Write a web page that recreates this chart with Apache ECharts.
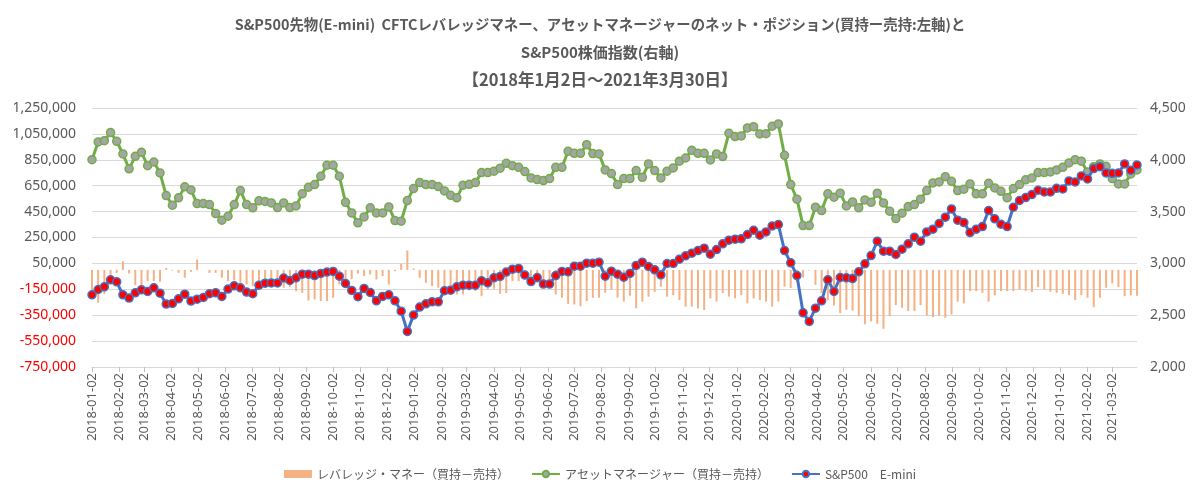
<!DOCTYPE html>
<html>
<head>
<meta charset="utf-8">
<script src="https://cdn.jsdelivr.net/npm/echarts@6/dist/echarts.min.js"></script>
<style>
html,body{margin:0;padding:0;background:#fff;}
#chart{width:1200px;height:497px;}
</style>
</head>
<body>
<div id="chart"></div>
<script>
// weekly report dates (Tuesdays)
const dates = [
'2018-01-02','2018-01-09','2018-01-16','2018-01-23','2018-01-30','2018-02-06','2018-02-13','2018-02-20','2018-02-27',
'2018-03-06','2018-03-13','2018-03-20','2018-03-27','2018-04-03','2018-04-10','2018-04-17','2018-04-24',
'2018-05-01','2018-05-08','2018-05-15','2018-05-22','2018-05-29','2018-06-05','2018-06-12','2018-06-19','2018-06-26',
'2018-07-03','2018-07-10','2018-07-17','2018-07-24','2018-07-31','2018-08-07','2018-08-14','2018-08-21','2018-08-28',
'2018-09-04','2018-09-11','2018-09-18','2018-09-25','2018-10-02','2018-10-09','2018-10-16','2018-10-23','2018-10-30',
'2018-11-06','2018-11-13','2018-11-20','2018-11-27','2018-12-04','2018-12-11','2018-12-18','2018-12-25',
'2019-01-01','2019-01-08','2019-01-15','2019-01-22','2019-01-29','2019-02-05','2019-02-12','2019-02-19','2019-02-26',
'2019-03-05','2019-03-12','2019-03-19','2019-03-26','2019-04-02','2019-04-09','2019-04-16','2019-04-23','2019-04-30',
'2019-05-07','2019-05-14','2019-05-21','2019-05-28','2019-06-04','2019-06-11','2019-06-18','2019-06-25',
'2019-07-02','2019-07-09','2019-07-16','2019-07-23','2019-07-30','2019-08-06','2019-08-13','2019-08-20','2019-08-27',
'2019-09-03','2019-09-10','2019-09-17','2019-09-24','2019-10-01','2019-10-08','2019-10-15','2019-10-22','2019-10-29',
'2019-11-05','2019-11-12','2019-11-19','2019-11-26','2019-12-03','2019-12-10','2019-12-17','2019-12-24','2019-12-31',
'2020-01-07','2020-01-14','2020-01-21','2020-01-28','2020-02-04','2020-02-11','2020-02-18','2020-02-25',
'2020-03-03','2020-03-10','2020-03-17','2020-03-24','2020-03-31','2020-04-07','2020-04-14','2020-04-21','2020-04-28',
'2020-05-05','2020-05-12','2020-05-19','2020-05-26','2020-06-02','2020-06-09','2020-06-16','2020-06-23','2020-06-30',
'2020-07-07','2020-07-14','2020-07-21','2020-07-28','2020-08-04','2020-08-11','2020-08-18','2020-08-25',
'2020-09-01','2020-09-08','2020-09-15','2020-09-22','2020-09-29','2020-10-06','2020-10-13','2020-10-20','2020-10-27',
'2020-11-03','2020-11-10','2020-11-17','2020-11-24','2020-12-01','2020-12-08','2020-12-15','2020-12-22','2020-12-29',
'2021-01-05','2021-01-12','2021-01-19','2021-01-26','2021-02-02','2021-02-09','2021-02-16','2021-02-23',
'2021-03-02','2021-03-09','2021-03-16','2021-03-23','2021-03-30'
];

// レバレッジ・マネー（買持－売持）
const leveraged = [
-177000,-254000,-185000,-56000,-23000,67000,-28000,-118000,-125000,-87000,-87000,-92000,16000,-5000,-23000,-61000,
-15000,80000,-2000,-23000,-23000,-61000,-87000,-82000,-100000,-113000,-125000,-113000,-125000,-131000,-125000,-138000,
-133000,-164000,-177000,-236000,-228000,-241000,-241000,-215000,-113000,-113000,
-70000,-28000,-48000,-36000,-74000,-48000,-113000,-10000,47000,150000,11000,-61000,-100000,-125000,-138000,-133000,
-164000,-190000,-190000,-159000,-164000,-203000,-151000,-146000,-185000,-180000,-87000,-87000,-74000,-74000,-100000,
-113000,-125000,-190000,-215000,-262000,-267000,-280000,-241000,-215000,-215000,-177000,-151000,
-215000,-245000,-200000,-297000,-245000,-207000,-170000,-130000,-207000,-195000,-233000,-283000,-283000,-297000,
-310000,-220000,-245000,-180000,-207000,-220000,-195000,-258000,-220000,-233000,-245000,-283000,-245000,-130000,
-140000,-95000,-60000,-5000,-115000,-180000,-235000,-275000,-333000,-308000,-315000,-358000,-420000,-398000,
-416000,-455000,-357000,-272000,-293000,-318000,-318000,-272000,-352000,-365000,-352000,-370000,-344000,-246000,
-259000,-164000,-164000,-177000,-246000,-197000,-164000,-164000,-164000,-151000,-164000,-172000,-133000,-151000,
-169000,-177000,-185000,-195000,-233000,-195000,-215000,-288000,-215000,-138000,-105000,-133000,-203000,-197000,-200000
];

// アセットマネージャー（買持－売持）
const assetMgr = [
851000,988000,998000,1060000,993000,895000,780000,877000,908000,805000,833000,749000,574000,499000,556000,641000,
617000,512000,512000,504000,435000,384000,414000,504000,612000,504000,479000,533000,528000,517000,481000,517000,
481000,494000,587000,638000,659000,723000,808000,808000,723000,522000,440000,
363000,409000,479000,440000,440000,486000,381000,376000,535000,628000,674000,659000,659000,643000,610000,576000,
556000,654000,661000,674000,751000,751000,762000,785000,823000,805000,792000,759000,710000,697000,690000,705000,
792000,792000,916000,900000,900000,967000,898000,895000,772000,744000,
659000,705000,705000,767000,715000,818000,767000,710000,762000,787000,839000,864000,923000,900000,900000,849000,
895000,875000,1055000,1029000,1034000,1096000,1106000,1050000,1052000,1109000,1127000,885000,659000,546000,342000,
342000,484000,458000,587000,561000,592000,494000,525000,479000,540000,522000,
592000,517000,453000,396000,438000,489000,504000,546000,612000,671000,679000,720000,684000,612000,623000,664000,
587000,587000,669000,633000,607000,556000,628000,659000,695000,710000,751000,751000,756000,772000,792000,826000,
851000,839000,756000,797000,818000,800000,705000,664000,664000,741000,772000
];

// S&P500 E-mini
const sp500 = [
2697,2748,2774,2842,2822,2697,2665,2716,2745,2729,2764,2713,2607,2613,2658,2703,2636,2655,2671,2707,2716,2681,
2752,2784,2764,2723,2707,2790,2809,2812,2812,2858,2835,2861,2896,2896,2883,2903,2916,2922,2877,2806,2739,
2678,2758,2719,2639,2681,2697,2639,2539,2343,2501,2578,2610,2629,2629,2736,2742,2774,2790,2790,2790,2832,2813,
2861,2874,2916,2944,2951,2887,2825,2864,2800,2800,2883,2922,2919,2973,2973,3002,3002,3012,2877,2925,
2896,2867,2903,2980,3012,2970,2938,2890,2999,2999,3041,3073,3099,3124,3147,3089,3134,3189,3224,3234,3237,3279,
3320,3272,3304,3362,3375,3124,3006,2883,2523,2440,2568,2639,2842,2729,2864,2861,2854,2919,2996,3076,
3214,3118,3118,3086,3137,3189,3253,3214,3304,3330,3385,3446,3526,3417,3394,3298,3330,3356,3510,3430,3378,3356,
3542,3607,3635,3664,3706,3690,3690,3725,3719,3796,3786,3844,3815,3915,3934,3873,3870,3873,3960,3899,3950
];

// x-axis tick labels (monthly)
const monthTicks = [
'2018-01-02','2018-02-02','2018-03-02','2018-04-02','2018-05-02','2018-06-02','2018-07-02','2018-08-02','2018-09-02',
'2018-10-02','2018-11-02','2018-12-02','2019-01-02','2019-02-02','2019-03-02','2019-04-02','2019-05-02','2019-06-02',
'2019-07-02','2019-08-02','2019-09-02','2019-10-02','2019-11-02','2019-12-02','2020-01-02','2020-02-02','2020-03-02',
'2020-04-02','2020-05-02','2020-06-02','2020-07-02','2020-08-02','2020-09-02','2020-10-02','2020-11-02','2020-12-02',
'2021-01-02','2021-02-02','2021-03-02'
];

const seriesNames = ['レバレッジ・マネー（買持－売持）', 'アセットマネージャー（買持－売持）', 'S&P500　E-mini'];
const titleLines = [
  'S&P500先物(E-mini)  CFTCレバレッジマネー、アセットマネージャーのネット・ポジション(買持ー売持:左軸)と',
  'S&P500株価指数(右軸)',
  '【2018年1月2日～2021年3月30日】'
];

const DAY = 86400000;
function toDay(s){ const p = s.split('-').map(Number); return Math.round(Date.UTC(p[0], p[1]-1, p[2]) / DAY); }
function pad(n){ return (n<10?'0':'')+n; }
function fmtDay(v){ const d = new Date(Math.round(v) * DAY); return d.getUTCFullYear()+'-'+pad(d.getUTCMonth()+1)+'-'+pad(d.getUTCDate()); }
function fmtNum(v){ return Math.round(v).toLocaleString('en-US'); }

const tickVals = monthTicks.map(toDay);
const xs = dates.map(toDay);
const pair = (arr) => arr.map((v,i) => [xs[i], v]);

const grey = '#595959';
const FONT = '"Noto Sans", "Noto Sans CJK JP", sans-serif';
const TFONT = '"Noto Sans CJK JP", "Noto Sans", sans-serif';
const titleSizes = [14.4, 15, 16.5];
const titleTops = [12, 40, 66];

const chart = echarts.init(document.getElementById('chart'), null, {renderer:'canvas'});
chart.setOption({
  animation: false,
  backgroundColor: '#fff',
  title: titleLines.map((t,i) => ({
    text: t, left: 'center', top: titleTops[i],
    textStyle: {fontFamily: TFONT, fontSize: titleSizes[i], fontWeight: 'bold', color: grey}
  })),
  legend: {
    bottom: 12, left: 'center', itemGap: 22, itemWidth: 28, itemHeight: 8,
    textStyle: {fontFamily: TFONT, fontSize: 12, color: grey},
    data: [{name: seriesNames[0], icon: 'rect'}, {name: seriesNames[1]}, {name: seriesNames[2]}]
  },
  grid: {left: 92, right: 63, top: 108, bottom: 130, containLabel: false},
  xAxis: {
    type: 'value',
    min: xs[0], max: xs[xs.length-1],
    axisLine: {onZero: false, lineStyle: {color: '#D9D9D9', width: 1}},
    axisTick: {show: true, length: 5, lineStyle: {color: '#BFBFBF'}, customValues: tickVals},
    axisLabel: {
      customValues: tickVals, rotate: 90, margin: 6, color: grey,
      fontFamily: FONT, fontSize: 13, formatter: (v) => fmtDay(v)
    },
    splitLine: {show: false}
  },
  yAxis: [
    {
      type: 'value', min: -750000, max: 1250000, interval: 200000,
      axisLine: {show: false}, axisTick: {show: false},
      splitLine: {lineStyle: {color: '#D9D9D9', width: 1}},
      axisLabel: {
        margin: 16, fontFamily: FONT, fontSize: 14,
        formatter: (v) => (v < 0 ? '{n|' : '{p|') + fmtNum(v) + '}',
        rich: {
          p: {color: grey, fontFamily: FONT, fontSize: 14},
          n: {color: '#FF0000', fontFamily: FONT, fontSize: 14}
        }
      }
    },
    {
      type: 'value', min: 2000, max: 4500, interval: 500,
      axisLine: {show: false}, axisTick: {show: false}, splitLine: {show: false},
      axisLabel: {margin: 13, color: grey, fontFamily: FONT, fontSize: 14, formatter: (v) => fmtNum(v)}
    }
  ],
  series: [
    {
      name: seriesNames[0], type: 'bar', yAxisIndex: 0, data: pair(leveraged),
      barWidth: 2, itemStyle: {color: '#F4B183'}, z: 1
    },
    {
      name: seriesNames[1], type: 'line', yAxisIndex: 0, data: pair(assetMgr),
      symbol: 'circle', symbolSize: 8, showAllSymbol: true,
      lineStyle: {color: '#70AD47', width: 3},
      itemStyle: {color: '#A5A5A5', borderColor: '#70AD47', borderWidth: 1.5}, z: 2
    },
    {
      name: seriesNames[2], type: 'line', yAxisIndex: 1, data: pair(sp500),
      symbol: 'circle', symbolSize: 8, showAllSymbol: true,
      lineStyle: {color: '#4472C4', width: 3},
      itemStyle: {color: '#FF0000', borderColor: '#4472C4', borderWidth: 1.5}, z: 3
    }
  ]
});
</script>
</body>
</html>
